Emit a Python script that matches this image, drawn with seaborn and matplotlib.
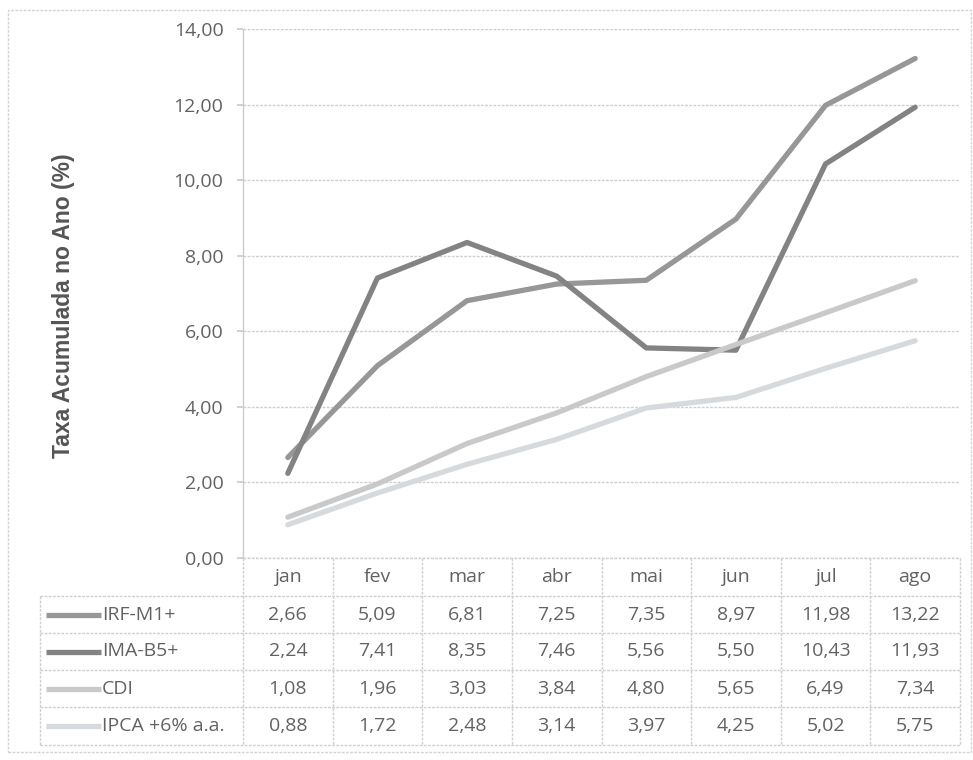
import matplotlib
matplotlib.use("Agg")
import matplotlib.pyplot as plt
import numpy as np
import pandas as pd
import seaborn as sns
from matplotlib.transforms import blended_transform_factory
from matplotlib.patches import Rectangle
from matplotlib.ticker import FuncFormatter, MultipleLocator

# Accumulated rate in the year (%), by month
months = ["jan", "fev", "mar", "abr", "mai", "jun", "jul", "ago"]
irf_m1 = [2.66, 5.09, 6.81, 7.25, 7.35, 8.97, 11.98, 13.22]
ima_b5 = [2.24, 7.41, 8.35, 7.46, 5.56, 5.50, 10.43, 11.93]
cdi = [1.08, 1.96, 3.03, 3.84, 4.80, 5.65, 6.49, 7.34]
ipca6 = [0.88, 1.72, 2.48, 3.14, 3.97, 4.25, 5.02, 5.75]
series_names = ["IRF-M1+", "IMA-B5+", "CDI", "IPCA +6% a.a."]
series_values = [irf_m1, ima_b5, cdi, ipca6]
colors = ["#979797", "#838383", "#c9c9c9", "#d7dadd"]

rows = []
for name, vals in zip(series_names, series_values):
    for m, v in zip(months, vals):
        rows.append({"mes": m, "valor": v, "serie": name})
df = pd.DataFrame(rows)

sns.set_theme(style="white")
plt.rcParams["font.family"] = ["Open Sans", "DejaVu Sans"]

W, H = 973, 760
fig = plt.figure(figsize=(W / 100, H / 100), dpi=100)
fig.patch.set_facecolor("white")

ax_l, ax_r, ax_t, ax_b = 243, 960, 29, 558
ax = fig.add_axes([ax_l / W, 1 - ax_b / H, (ax_r - ax_l) / W, (ax_b - ax_t) / H])

sns.lineplot(data=df, x="mes", y="valor", hue="serie", hue_order=series_names,
             palette=colors, sort=False, linewidth=3.8, legend=False, ax=ax)

fs = 14
text_c = "#626262"

ax.set_xlim(-0.5, len(months) - 0.5)
ax.set_ylim(0, 14)
ax.yaxis.set_major_locator(MultipleLocator(2))
ax.yaxis.set_major_formatter(FuncFormatter(lambda v, p: f"{v:.2f}".replace(".", ",")))
ax.grid(axis="y", color="#cfcfcf", linewidth=1.0, linestyle=(0, (2, 1)))
ax.set_axisbelow(True)
for s in ["top", "right", "bottom"]:
    ax.spines[s].set_visible(False)
ax.spines["left"].set_color("#cccccc")
ax.spines["left"].set_linewidth(1.0)
ax.tick_params(axis="y", labelsize=fs, labelcolor=text_c, length=4,
               color="#cccccc", pad=10, left=True)
ax.tick_params(axis="x", bottom=False, labelbottom=False)
ax.set_xlabel("")

# Data table under the plot
plot_h = ax_b - ax_t
plot_w = ax_r - ax_l


def ay(py):
    return (ax_b - py) / plot_h


def axx(px):
    return (px - ax_l) / plot_w


ax.set_ylabel("Taxa Acumulada no Ano (%)", fontsize=16.5, fontweight="bold",
              color="#555555", family=["Liberation Sans", "DejaVu Sans"])
ax.yaxis.set_label_coords(axx(75), ay(306))

tr_col = blended_transform_factory(ax.transData, ax.transAxes)
grid_c = "#cfcfcf"
row_edges = [558, 596, 633, 670, 707, 745]
table_left = 40

# header row: month names
for i, m in enumerate(months):
    ax.text(i, ay((row_edges[0] + row_edges[1]) / 2), m, transform=tr_col,
            ha="center", va="center", fontsize=fs, color=text_c, clip_on=False)

# body rows
for r, (name, vals, c) in enumerate(zip(series_names, series_values, colors)):
    yc = ay((row_edges[r + 1] + row_edges[r + 2]) / 2)
    for i, v in enumerate(vals):
        ax.text(i, yc, f"{v:.2f}".replace(".", ","), transform=tr_col,
                ha="center", va="center", fontsize=fs, color=text_c, clip_on=False)
    ax.plot([axx(46), axx(101)], [yc, yc], transform=ax.transAxes, color=c,
            linewidth=3.8, solid_capstyle="butt", clip_on=False)
    ax.text(axx(102), yc, name, transform=ax.transAxes, ha="left", va="center",
            fontsize=fs, color=text_c, clip_on=False)

# table rules
for k, py in enumerate(row_edges):
    x0 = axx(ax_l) if k == 0 else axx(table_left)
    ax.plot([x0, 1], [ay(py), ay(py)], transform=ax.transAxes, color=grid_c,
            linewidth=1.0, linestyle=(0, (2, 1)), clip_on=False)
for i in range(len(months) + 1):
    ax.plot([i - 0.5, i - 0.5], [ay(row_edges[0]), ay(row_edges[-1])],
            transform=tr_col, color=grid_c, linewidth=1.0,
            linestyle=(0, (2, 1)), clip_on=False)
ax.plot([axx(table_left)] * 2, [ay(row_edges[1]), ay(row_edges[-1])],
        transform=ax.transAxes, color=grid_c, linewidth=1.0,
        linestyle=(0, (2, 1)), clip_on=False)

# chart border
fig.patches.append(Rectangle((8 / W, 1 - 752 / H), (W - 10) / W, (752 - 10) / H,
                             transform=fig.transFigure, fill=False,
                             edgecolor="#d4d4d4", linewidth=1.0,
                             linestyle=(0, (2, 1))))

fig.savefig("out.png", dpi=100, facecolor="white")
